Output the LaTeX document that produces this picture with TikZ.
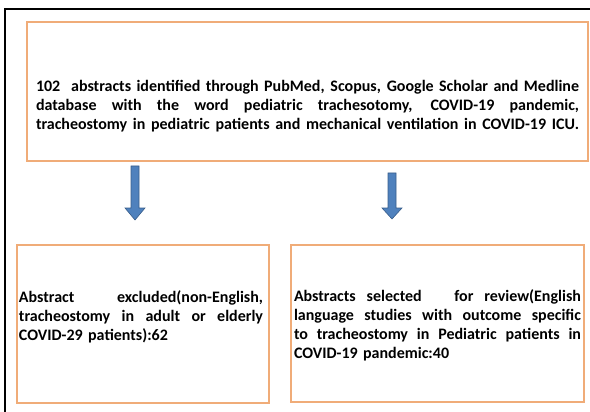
\documentclass[tikz,border=0pt]{standalone}
\usepackage{fontspec}
\setmainfont{Carlito}
\usetikzlibrary{positioning}
\definecolor{boxorange}{RGB}{240,172,120}
\definecolor{arrowblue}{RGB}{79,129,189}
\definecolor{arrowedge}{RGB}{56,93,138}
\tikzset{
  flowbox/.style={draw=boxorange, line width=1.6pt, inner sep=0pt},
  flowtext/.style={font=\bfseries\fontsize{16}{19}\selectfont, inner sep=0pt, text width=#1, align=left},
  blockarrow/.style={fill=arrowblue, draw=arrowedge, line width=0.6pt}
}
% one line spread out to a given width
\newcommand{\jline}[2]{\makebox[#1][s]{\spaceskip=0pt\xspaceskip=0pt\relax #2}}

\begin{document}
\begin{tikzpicture}[x=1pt,y=-1pt]
    \useasboundingbox (0,0) rectangle (590,412);
    \draw[line width=2pt] (5,412) -- (5,9) -- (590,9);

    \node[flowbox, minimum width=561pt, minimum height=139pt] (topbox) at (307.5,91.5) {};
    \node[flowbox, minimum width=252pt, minimum height=158pt] (leftbox) at (143,324) {};
    \node[flowbox, minimum width=293pt, minimum height=157pt] (rightbox) at (437.5,323.5) {};

    \node[flowtext=543pt] (toptext) at (307.5,106) {%
      \jline{543pt}{102\ \ abstracts identified through PubMed, Scopus, Google Scholar and Medline}\\
      \jline{543pt}{database with the word pediatric trachesotomy, COVID-19 pandemic,}\\
      \jline{543pt}{tracheostomy in pediatric patients and mechanical ventilation in COVID-19\ ICU.}};

    \node[flowtext=244pt] (lefttext) at (141,317) {%
      \jline{244pt}{Abstract excluded(non-English,}\\
      \jline{244pt}{tracheostomy in adult or elderly}\\
      COVID-29 patients):62};

    \node[flowtext=287pt] (righttext) at (437.5,325.5) {%
      \jline{287pt}{Abstracts selected\ \ \ for review(English}\\
      \jline{287pt}{language studies with outcome specific}\\
      \jline{287pt}{to tracheostomy in Pediatric patients in}\\
      COVID-19 pandemic:40};

    % block arrows
    \coordinate (leftstart) at (131,166);
    \coordinate (rightstart) at (388,173);
    \draw[blockarrow] (leftstart) -- ++(8,0) -- ++(0,42) -- ++(6,0) -- ++(-10,12)
      -- ++(-10,-12) -- ++(6,0) -- cycle;
    \draw[blockarrow] (rightstart) -- ++(8,0) -- ++(0,35) -- ++(6,0) -- ++(-10,11)
      -- ++(-10,-11) -- ++(6,0) -- cycle;
\end{tikzpicture}
\end{document}
